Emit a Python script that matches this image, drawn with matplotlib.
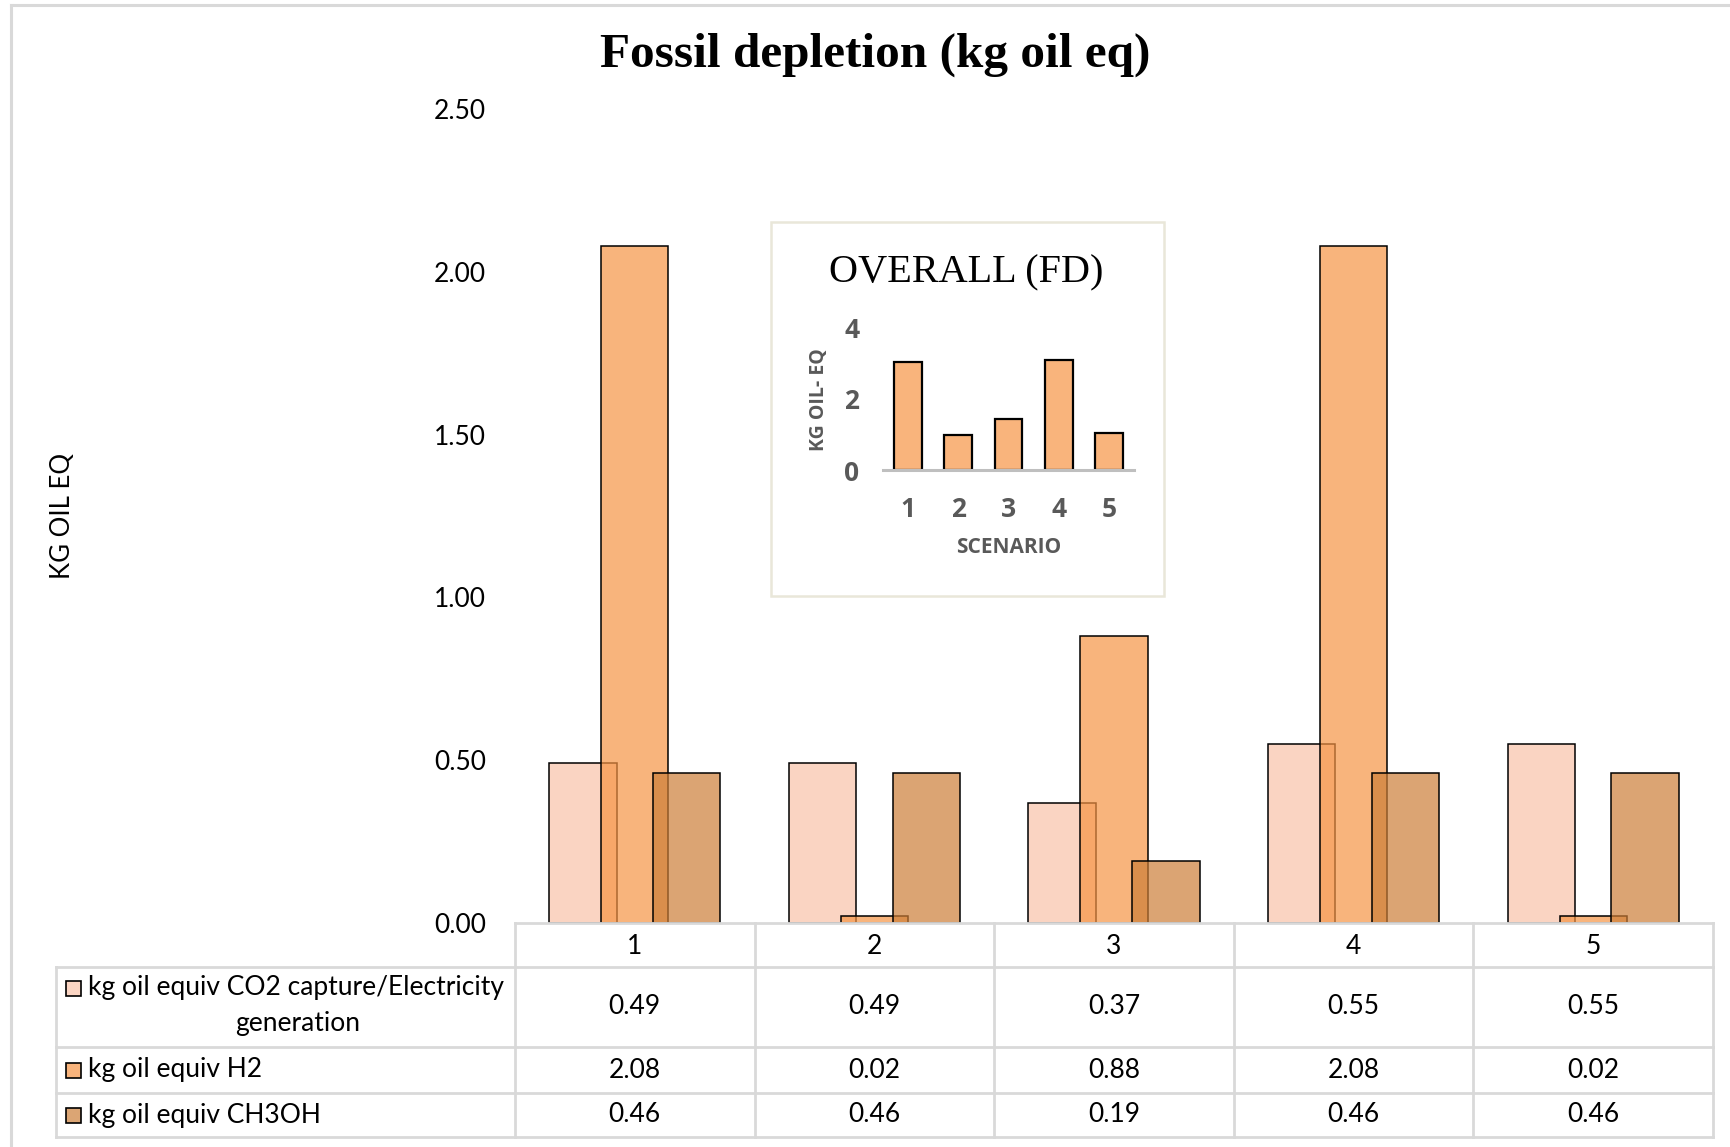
import numpy as np
import matplotlib
matplotlib.use("Agg")
import matplotlib.pyplot as plt
from matplotlib.patches import Rectangle
from matplotlib.lines import Line2D

# data
scenarios = ["1", "2", "3", "4", "5"]
co2_elec = [0.49, 0.49, 0.37, 0.55, 0.55]
h2 = [2.08, 0.02, 0.88, 2.08, 0.02]
ch3oh = [0.46, 0.46, 0.19, 0.46, 0.46]
series_names = ["kg oil equiv CO2 capture/Electricity\ngeneration",
                "kg oil equiv H2", "kg oil equiv CH3OH"]
y_ticks = [0.0, 0.5, 1.0, 1.5, 2.0, 2.5]
inset_ticks = [0, 2, 4]

series = [co2_elec, h2, ch3oh]
colors = [(0.976, 0.765, 0.663, 0.7), (0.965, 0.58, 0.267, 0.7), (0.8, 0.494, 0.22, 0.7)]
key_colors = ["#FBD5C3", "#F9B47C", "#DBA574"]
totals = np.sum(np.array(series), axis=0)

W, H = 1731, 1147
fig = plt.figure(figsize=(W / 100, H / 100), dpi=100)
sans = "Lato"
bold_sans = "Open Sans"
fs = 19
grid_c = "#D9D9D9"

def fx(px):
    return px / W

def fy(py):
    return 1 - py / H

# outer chart border (only top and left visible)
fig.add_artist(Line2D([fx(11), 1], [fy(5), fy(5)], color=grid_c, lw=2.2))
fig.add_artist(Line2D([fx(11), fx(11)], [fy(5), 0], color=grid_c, lw=2.2))

# main axes
left, right, top, base = 515, 1713, 109, 923
ax = fig.add_axes([fx(left), fy(base), fx(right - left), (base - top) / H])
x = np.arange(1, len(scenarios) + 1)
offsets = [-0.2166, 0.0, 0.2166]
for vals, off, c in zip(series, offsets, colors):
    ax.bar(x + off, vals, width=0.281, color=c, edgecolor="black", linewidth=1.1, zorder=2)

ax.set_xlim(0.5, 5.5)
ax.set_ylim(0, 2.5)
ax.set_yticks(y_ticks)
ax.set_yticklabels([f"{v:.2f}" for v in y_ticks], fontsize=fs, family=sans)
ax.tick_params(axis="y", length=0, pad=21)
ax.set_xticks([])
for s in ax.spines.values():
    s.set_visible(False)
ax.patch.set_alpha(0)

fig.text(fx(63), fy(516), "KG OIL EQ", rotation=90, ha="center", va="center",
         fontsize=18.5, family=sans)
fig.text(fx(875), fy(55), "Fossil depletion (kg oil eq)", ha="center", va="center",
         fontsize=35.5, fontweight="bold", family="Liberation Serif")

# data table below the axes
col_edges = [left + i * (right - left) / 5 for i in range(6)]
row_edges = [923, 967, 1047, 1093, 1137]
lab_left = 56
lw = 2.0
fig.add_artist(Line2D([fx(left), fx(right)], [fy(row_edges[0])] * 2, color=grid_c, lw=lw))
for ry in row_edges[1:]:
    fig.add_artist(Line2D([fx(lab_left), fx(right)], [fy(ry)] * 2, color=grid_c, lw=lw))
for cx in col_edges:
    fig.add_artist(Line2D([fx(cx)] * 2, [fy(row_edges[0]), fy(row_edges[-1])], color=grid_c, lw=lw))
fig.add_artist(Line2D([fx(lab_left)] * 2, [fy(row_edges[1]), fy(row_edges[-1])], color=grid_c, lw=lw))

for i, sc in enumerate(scenarios):
    cx = (col_edges[i] + col_edges[i + 1]) / 2
    fig.text(fx(cx), fy((row_edges[0] + row_edges[1]) / 2 + 1), sc, ha="center", va="center",
             fontsize=fs, family=sans)
    for r, vals in enumerate(series):
        cy = (row_edges[r + 1] + row_edges[r + 2]) / 2
        fig.text(fx(cx), fy(cy), f"{vals[i]:.2f}", ha="center", va="center",
                 fontsize=fs, family=sans)

# row labels with legend keys
key = 15
for r, (name, kc) in enumerate(zip(series_names, key_colors)):
    lines = name.split("\n")
    if len(lines) == 2:
        y1 = row_edges[r + 1] + 21
        fig.text(fx(298), fy(y1 + 36), lines[1], ha="center", va="center",
                 fontsize=fs, family=sans)
    else:
        y1 = (row_edges[r + 1] + row_edges[r + 2]) / 2
    fig.add_artist(Rectangle((fx(66), fy(y1 + key / 2)), fx(key), key / H,
                             facecolor=kc, edgecolor="black", lw=1.2))
    fig.text(fx(88), fy(y1), lines[0], ha="left", va="center", fontsize=fs, family=sans)

# inset chart
box = Rectangle((fx(771), fy(596)), fx(1164 - 771), (596 - 222) / H,
                facecolor="white", edgecolor="#E9E7D9", lw=1.8, zorder=3)
fig.add_artist(box)
fig.text(fx(966), fy(273), "OVERALL (FD)", ha="center", va="center", fontsize=29,
         family="Liberation Serif", zorder=4)
iax = fig.add_axes([fx(883), fy(470), fx(1134 - 883), (470 - 327) / H], zorder=5)
iax.bar(x, totals, width=0.55, color="#F9B47C", edgecolor="black", linewidth=1.6, zorder=2)
iax.set_xlim(0.5, 5.5)
iax.set_ylim(0, 4)
iax.set_yticks(inset_ticks)
iax.set_yticklabels([str(t) for t in inset_ticks], fontsize=19, fontweight="bold",
                    color="#595959", family=bold_sans)
iax.set_xticks(x)
iax.set_xticklabels(scenarios, fontsize=19, fontweight="bold", color="#595959", family=bold_sans)
iax.tick_params(axis="y", length=0, pad=17)
iax.tick_params(axis="x", length=0, pad=19)
for nm, s in iax.spines.items():
    s.set_visible(nm == "bottom")
iax.spines["bottom"].set_color("#BFBFBF")
iax.spines["bottom"].set_linewidth(2.2)
iax.patch.set_alpha(0)
fig.text(fx(1009), fy(548), "SCENARIO", ha="center", va="center", fontsize=15,
         fontweight="bold", color="#595959", family=bold_sans, zorder=6)
fig.text(fx(819), fy(400), "KG OIL- EQ", rotation=90, ha="center", va="center", fontsize=14,
         fontweight="bold", color="#595959", family=bold_sans, zorder=6)

fig.savefig("out.png", dpi=100)
